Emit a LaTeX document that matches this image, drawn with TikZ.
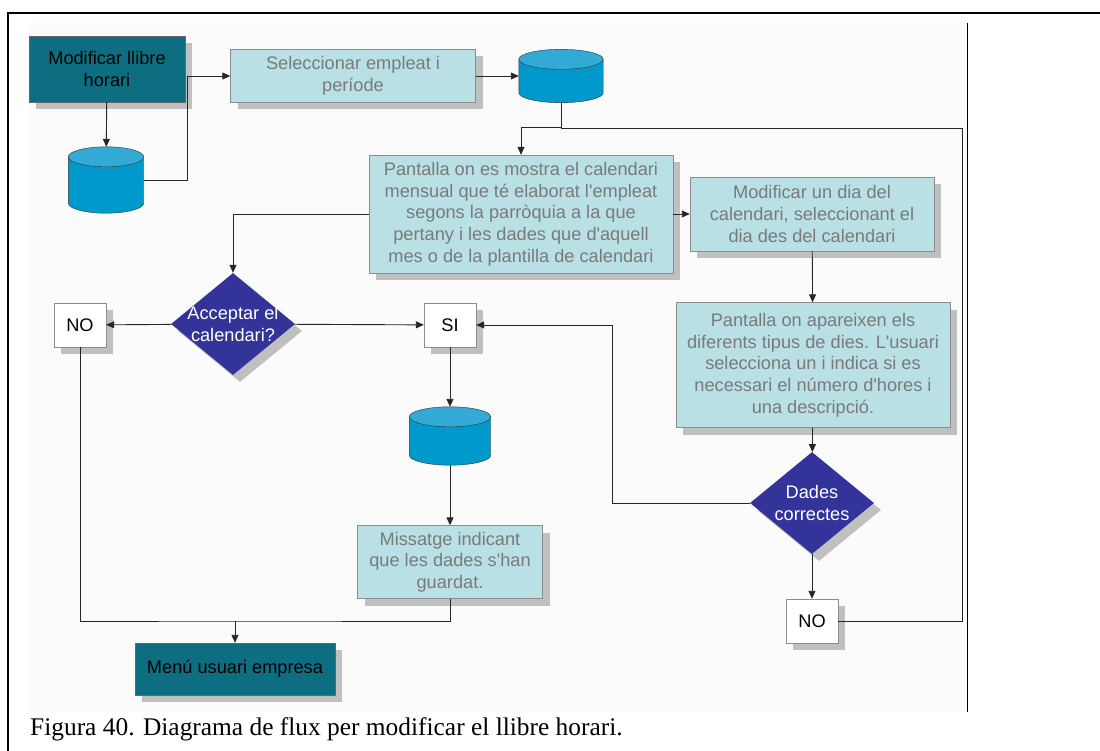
\documentclass[tikz,border=0pt]{standalone}
\usepackage{fontspec}
\setmainfont{Liberation Serif}
\setsansfont{Liberation Sans}[Ligatures=TeXOff]
\usetikzlibrary{shapes.geometric,shadows,arrows.meta,calc}
\definecolor{teal}{HTML}{0C6E80}
\definecolor{pale}{HTML}{B9E0E4}
\definecolor{txtgray}{HTML}{7A7A7A}
\definecolor{navy}{HTML}{333399}
\definecolor{dbbody}{HTML}{0099CC}
\definecolor{dbtop}{HTML}{33AAD6}
\definecolor{shade}{HTML}{C0C0C0}
\newcommand\dbdraw[1]{%
  \filldraw[draw=black!80,fill=dbbody] let \p1=(#1.west),\p2=(#1.east),\n1={(\x2-\x1)/2} in
    ([yshift=-10pt]#1.north west) -- ([yshift=10pt]#1.south west)
    arc[start angle=180,end angle=360,x radius=\n1,y radius=10pt] -- ([yshift=-10pt]#1.north east) -- cycle;
  \filldraw[draw=black!80,fill=dbtop] let \p1=(#1.west),\p2=(#1.east),\n1={(\x2-\x1)/2} in
    ([yshift=-10pt]#1.north) ellipse[x radius=\n1,y radius=10pt];
}
\begin{document}
\begin{tikzpicture}[x=1pt,y=-1pt,
  >={Triangle[length=8pt,width=7pt]},
  every node/.style={font=\sffamily\fontsize{18.2}{21.7}\selectfont, inner sep=0pt, align=center},
  shad/.style={drop shadow={shadow xshift=7pt,shadow yshift=-7pt,fill=shade,opacity=1}},
  start/.style={rectangle,draw=black!60,fill=teal,shad,minimum width=#1},
  process/.style={rectangle,draw=black!45,fill=pale,text=txtgray,shad,minimum width=#1},
  answer/.style={rectangle,draw=black!45,fill=white,shad,minimum width=52pt,minimum height=44pt},
  decision/.style={diamond,fill=navy,shad,minimum width=124pt,minimum height=102pt},
  db/.style={rectangle,minimum width=#1},
  link/.style={draw=black!85,line width=0.9pt}
  ]
  \useasboundingbox (0,0) rectangle (1100,751);
  \fill[black!1.5] (28,23) rectangle (967,711);
  \draw[line width=1.2pt] (8,751) -- (8,13) -- (1100,13);
  \draw[line width=0.8pt] (967,23) -- (967,712);

  \node[start=156pt,minimum height=66pt] (mod) at (107,69) {Modificar llibre\\horari};
  \node[db=75pt,minimum height=66pt] (db_1) at (106,180) {};
  \node[process=245pt,minimum height=53pt] (sel) at (353,76) {Seleccionar empleat i\\període};
  \node[db=84pt,minimum height=53pt] (db_2) at (561,76) {};
  \node[process=304pt,minimum height=118pt] (pant) at (521,214)
    {Pantalla on es mostra el calendari\\mensual que té elaborat l'empleat\\segons la parròquia a la que\\pertany i les dades que d'aquell\\mes o de la plantilla de calendari};
  \node[process=244pt,minimum height=74pt] (dia) at (812,214)
    {Modificar un dia del\\calendari, seleccionant el\\dia des del calendari};
  \node[process=274pt,minimum height=125pt] (pant_2) at (813,365)
    {Pantalla on apareixen els\\diferents tipus de dies. L'usuari\\selecciona un i indica si es\\necessari el número d'hores i\\una descripció.};
  \node[decision,label={[text=white]center:Acceptar el\\calendari?}] (acc) at (233,324) {};
  \node[answer] (no_1) at (80,325) {NO};
  \node[answer] (si) at (450,325) {SI};
  \node[db=81pt,minimum height=58pt] (db_3) at (450,436) {};
  \node[process=185pt,minimum height=73pt] (msg) at (450,562)
    {Missatge indicant\\que les dades s'han\\guardat.};
  \node[decision,label={[text=white]center:Dades\\correctes}] (ok) at (812,503) {};
  \node[answer] (no_2) at (812,621) {NO};
  \node[start=200pt,minimum height=52pt] (menu) at (235,669) {Menú usuari empresa};
  \node[font=\rmfamily\fontsize{25.4}{30}\selectfont,anchor=base west] (cap) at (30,735)
    {Figura 40. Diagrama de flux per modificar el llibre horari.};
  \dbdraw{db_1}
  \dbdraw{db_2}
  \dbdraw{db_3}

  \coordinate (loop) at (962,128);
  \coordinate (join) at (235,621);
  \draw[link,->] (mod) -- (db_1);
  \draw[link,->] (db_1.east) -- ++(44,0) |- (sel.west);
  \draw[link,->] (sel) -- (db_2);
  \draw[link,->] (db_2.south) -- ++(0,25) -| (pant.north);
  \draw[link] (no_2.east) -| (loop) -- (loop -| db_2.south);
  \draw[link,->] (pant) -- (dia);
  \draw[link,->] (dia) -- (pant_2);
  \draw[link,->] (pant_2) -- (ok);
  \draw[link,->] (ok) -- (no_2);
  \draw[link,->] (ok.west) -- ++(-137,0) |- (si.east);
  \draw[link,->] (pant.west) -| (acc.north);
  \draw[link,->] (acc) -- (no_1);
  \draw[link,->] (acc) -- (si);
  \draw[link,->] (si) -- (db_3);
  \draw[link,->] (db_3) -- (msg);
  \draw[link] (no_1.south) |- (join) -| (msg.south);
  \draw[link,->] (join) -- (menu);
\end{tikzpicture}
\end{document}
